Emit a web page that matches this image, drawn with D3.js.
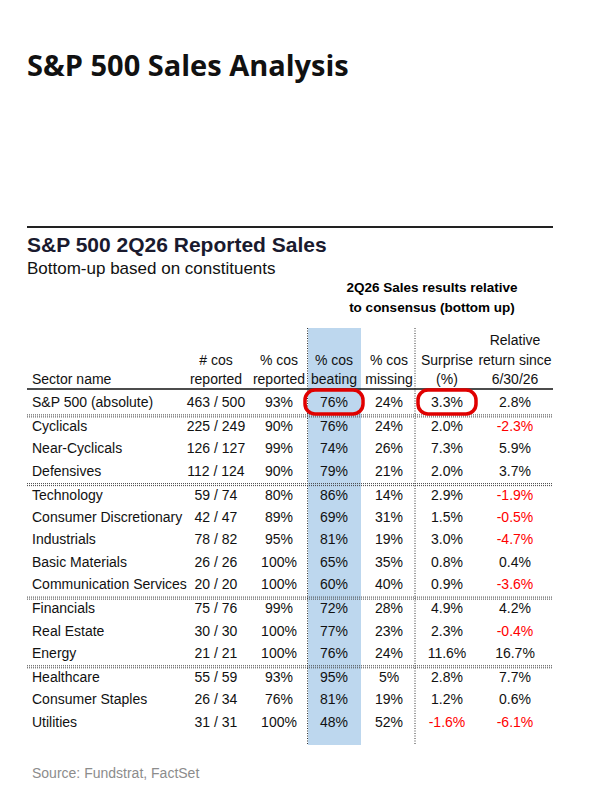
<!DOCTYPE html>
<html><head><meta charset="utf-8">
<script src="https://cdn.jsdelivr.net/npm/d3@7"></script>
<style>body{margin:0;background:#fff}</style>
</head><body>
<svg id="chart" width="593" height="792"></svg>
<script>
// table data
const sectors = ["S&P 500 (absolute)", "Cyclicals", "Near-Cyclicals", "Defensives",
  "Technology", "Consumer Discretionary", "Industrials", "Basic Materials", "Communication Services",
  "Financials", "Real Estate", "Energy",
  "Healthcare", "Consumer Staples", "Utilities"];
const reported = ["463 / 500", "225 / 249", "126 / 127", "112 / 124",
  "59 / 74", "42 / 47", "78 / 82", "26 / 26", "20 / 20",
  "75 / 76", "30 / 30", "21 / 21", "55 / 59", "26 / 34", "31 / 31"];
const pctReported = [93, 90, 99, 90, 80, 89, 95, 100, 100, 99, 100, 100, 93, 76, 100];
const pctBeating = [76, 76, 74, 79, 86, 69, 81, 65, 60, 72, 77, 76, 95, 81, 48];
const pctMissing = [24, 24, 26, 21, 14, 31, 19, 35, 40, 28, 23, 24, 5, 19, 52];
const surprise = [3.3, 2.0, 7.3, 2.0, 2.9, 1.5, 3.0, 0.8, 0.9, 4.9, 2.3, 11.6, 2.8, 1.2, -1.6];
const relReturn = [2.8, -2.3, 5.9, 3.7, -1.9, -0.5, -4.7, 0.4, -3.6, 4.2, -0.4, 16.7, 7.7, 0.6, -6.1];
const groupBreaks = [1, 4, 9, 12]; // rows that start a new group

const svg = d3.select("#chart");
const font = "'Liberation Sans Narrow', 'Arial Narrow', 'Liberation Sans', Arial, sans-serif";

// row positions (baselines), with gaps after separators
const rowY = [];
let yy = 407;
sectors.forEach((s, i) => {
  if (i > 0 && groupBreaks.includes(i)) yy += 1.5;
  rowY.push(yy);
  yy += 22.4;
});
const y = i => rowY[i];

const cols = ["name", "rep", "pr", "pb", "pm", "sur", "rel"];
const x = d3.scaleOrdinal().domain(cols).range([32, 216, 279, 334, 389, 447, 515]);

svg.append("text").attr("x", 27).attr("y", 76)
  .attr("font-family", "'Open Sans', 'Noto Sans', sans-serif").attr("font-weight", 700)
  .attr("font-size", 29).attr("fill", "#111").text("S&P 500 Sales Analysis");

svg.append("line").attr("x1", 27).attr("x2", 553).attr("y1", 227).attr("y2", 227)
  .attr("stroke", "#222").attr("stroke-width", 2);

svg.append("text").attr("x", 27).attr("y", 252).attr("font-family", font)
  .attr("font-weight", 700).attr("font-size", 21).attr("fill", "#1a1a2e")
  .text("S&P 500 2Q26 Reported Sales");
svg.append("text").attr("x", 27).attr("y", 274).attr("font-family", font)
  .attr("font-size", 17).attr("fill", "#111").text("Bottom-up based on constituents");

svg.append("text").attr("x", 432).attr("y", 292).attr("text-anchor", "middle")
  .attr("font-family", font).attr("font-weight", 700).attr("font-size", 13.5)
  .text("2Q26 Sales results relative");
svg.append("text").attr("x", 432).attr("y", 312).attr("text-anchor", "middle")
  .attr("font-family", font).attr("font-weight", 700).attr("font-size", 13.5)
  .text("to consensus (bottom up)");

// highlight band
svg.append("rect").attr("x", 308).attr("y", 328).attr("width", 53).attr("height", 417)
  .attr("fill", "#bdd7ee");

// vertical dotted lines
[307.5, 415].forEach(vx => svg.append("line").attr("x1", vx).attr("x2", vx)
  .attr("y1", 328).attr("y2", 745).attr("stroke", "#333").attr("stroke-width", 1)
  .attr("stroke-dasharray", "1,1.5"));

// headers
const headers = [
  ["name", ["Sector name"]],
  ["rep", ["# cos", "reported"]],
  ["pr", ["% cos", "reported"]],
  ["pb", ["% cos", "beating"]],
  ["pm", ["% cos", "missing"]],
  ["sur", ["Surprise", "(%)"]],
  ["rel", ["Relative", "return since", "6/30/26"]]
];
headers.forEach(([c, lines]) => {
  lines.forEach((t, k) => {
    svg.append("text").attr("x", x(c))
      .attr("y", 384 - (lines.length - 1 - k) * 19.5)
      .attr("text-anchor", c === "name" ? "start" : "middle")
      .attr("font-family", font).attr("font-size", 14).attr("fill", "#111").text(t);
  });
});
svg.append("line").attr("x1", 27).attr("x2", 553).attr("y1", 389).attr("y2", 389)
  .attr("stroke", "#111").attr("stroke-width", 1.5);

// group separators (dotted double)
[1, 4, 9, 12].forEach(i => {
  const sy = y(i) - 15;
  [-1, 1].forEach(o => svg.append("line").attr("x1", 27).attr("x2", 553)
    .attr("y1", sy + o).attr("y2", sy + o).attr("stroke", "#444")
    .attr("stroke-dasharray", "1,1").attr("stroke-width", 1));
});

const fmtPct = v => v + "%";
const fmt1 = v => v.toFixed(1) + "%";
const rows = svg.append("g").selectAll("g").data(sectors).join("g")
  .attr("transform", (d, i) => `translate(0,${y(i)})`);
const cell = (c, fn, color) => rows.append("text")
  .attr("x", x(c)).attr("text-anchor", c === "name" ? "start" : "middle")
  .attr("font-family", font).attr("font-size", 14)
  .attr("fill", (d, i) => color ? color(i) : "#111").text((d, i) => fn(i));
cell("name", i => sectors[i]);
cell("rep", i => reported[i]);
cell("pr", i => fmtPct(pctReported[i]));
cell("pb", i => fmtPct(pctBeating[i]));
cell("pm", i => fmtPct(pctMissing[i]));
cell("sur", i => fmt1(surprise[i]), i => surprise[i] < 0 ? "#ff0000" : "#111");
cell("rel", i => fmt1(relReturn[i]), i => relReturn[i] < 0 ? "#ff0000" : "#111");

// red callout ellipses
[["pb", 29], ["sur", 29]].forEach(([c, rx]) => svg.append("rect")
  .attr("x", x(c) - rx).attr("y", y(0) - 17).attr("width", rx * 2).attr("height", 24)
  .attr("rx", 10).attr("fill", "none").attr("stroke", "#e00000").attr("stroke-width", 3.5));

svg.append("text").attr("x", 32).attr("y", 778).attr("font-family", font)
  .attr("font-size", 14).attr("fill", "#8c8c8c").text("Source: Fundstrat, FactSet");
</script>
</body></html>
